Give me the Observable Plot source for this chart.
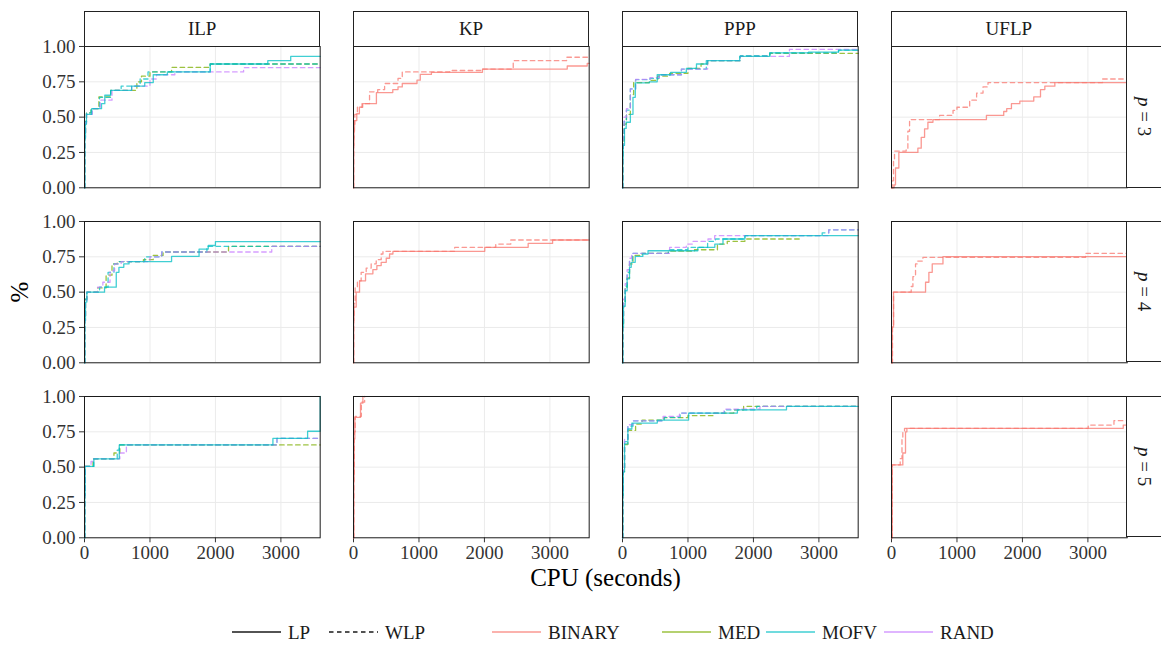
<!DOCTYPE html>
<html><head><meta charset="utf-8">
<script src="https://cdn.jsdelivr.net/npm/d3@7"></script>
<script src="https://cdn.jsdelivr.net/npm/@observablehq/plot@0.6"></script>
<style>
html,body{margin:0;padding:0;background:#fff;}
#root{position:relative;width:1161px;height:652px;overflow:hidden;font-family:"Liberation Serif","Times New Roman",serif;color:#1a1a1a;}
.panel{position:absolute;}
.strip{position:absolute;box-sizing:border-box;border:1px solid #222;background:#fff;display:flex;align-items:center;justify-content:center;font-size:19px;color:#1a1a1a;}
.vstrip{writing-mode:vertical-rl;}
.title{position:absolute;font-size:25px;color:#000;white-space:nowrap;}
</style></head><body><div id="root"></div><script>
// ---------- categories ----------
const problems = ["ILP", "KP", "PPP", "UFLP"];
const pValues = [3, 4, 5];
const methods = ["BINARY", "MED", "MOFV", "RAND"];
const methodColors = ["#F8766D", "#7CAE00", "#00BFC4", "#C77CFF"];
const bounds = ["LP", "WLP"];
const xTicks = [0, 1000, 2000, 3000];
const yTicks = [0, 0.25, 0.5, 0.75, 1];
const xDomain = [0, 3600];

// ---------- series: [CPU seconds, fraction solved] ----------
const ILP_p3_MOFV_LP = [[0,0],[5,0.35],[15,0.45],[30,0.52],[110,0.56],[260,0.595],[310,0.655],[400,0.69],[720,0.72],[920,0.745],[1050,0.80],[1265,0.82],[1920,0.876],[2800,0.90],[3150,0.93],[3600,0.93]];
const ILP_p3_MED_WLP = [[0,0],[5,0.38],[15,0.47],[30,0.53],[100,0.56],[220,0.643],[400,0.69],[800,0.75],[870,0.79],[1000,0.82],[1330,0.852],[1920,0.876],[3600,0.876]];
const ILP_p3_MOFV_WLP = [[0,0],[5,0.38],[15,0.47],[30,0.53],[100,0.56],[230,0.64],[400,0.69],[560,0.72],[850,0.77],[970,0.82],[1920,0.876],[3600,0.876]];
const ILP_p3_RAND_WLP = [[0,0],[5,0.36],[15,0.46],[30,0.52],[120,0.56],[240,0.62],[420,0.69],[720,0.72],[1000,0.77],[1100,0.80],[1380,0.82],[2430,0.85],[3600,0.85]];

const KP_p3_BINARY_LP = [[0,0],[3,0.3],[8,0.40],[15,0.476],[50,0.524],[90,0.571],[130,0.595],[350,0.674],[600,0.695],[680,0.714],[745,0.738],[970,0.762],[1020,0.802],[1190,0.817],[1970,0.84],[3265,0.862],[3570,0.88],[3600,0.88]];
const KP_p3_BINARY_WLP = [[0,0],[3,0.35],[8,0.45],[20,0.52],[60,0.57],[140,0.595],[245,0.679],[370,0.695],[475,0.738],[680,0.774],[745,0.82],[1470,0.83],[1960,0.84],[2440,0.90],[3255,0.924],[3600,0.924]];

const PPP_p3_MOFV_LP = [[0,0],[5,0.2],[10,0.3],[30,0.42],[56,0.464],[120,0.52],[160,0.64],[195,0.743],[410,0.75],[530,0.80],[735,0.817],[975,0.845],[1130,0.876],[1300,0.90],[1790,0.93],[2250,0.955],[2840,0.96],[3300,0.975],[3600,0.975]];
const PPP_p3_MED_WLP = [[0,0],[5,0.25],[10,0.33],[25,0.45],[60,0.52],[120,0.66],[170,0.745],[410,0.76],[540,0.79],[720,0.81],[1000,0.845],[1200,0.876],[1300,0.90],[1800,0.93],[2250,0.952],[3600,0.952]];
const PPP_p3_MOFV_WLP = [[0,0],[5,0.27],[10,0.36],[25,0.47],[60,0.55],[120,0.70],[200,0.765],[420,0.775],[560,0.80],[900,0.84],[1280,0.90],[1800,0.935],[2250,0.955],[3300,0.975],[3600,0.975]];
const PPP_p3_RAND_WLP = [[0,0],[5,0.28],[10,0.37],[25,0.50],[60,0.56],[120,0.70],[200,0.767],[420,0.78],[560,0.80],[900,0.84],[1300,0.90],[1800,0.93],[2550,0.98],[3600,0.98]];

const UFLP_p3_BINARY_LP = [[0,0],[40,0.02],[61,0.14],[112,0.25],[403,0.28],[454,0.357],[505,0.417],[556,0.464],[633,0.483],[1450,0.512],[1714,0.54],[1760,0.56],[1832,0.595],[1960,0.614],[2173,0.643],[2276,0.695],[2342,0.719],[2495,0.745],[3600,0.745]];
const UFLP_p3_BINARY_WLP = [[0,0],[20,0.05],[31,0.20],[46,0.26],[224,0.28],[250,0.40],[276,0.483],[735,0.512],[940,0.548],[1000,0.57],[1194,0.62],[1300,0.67],[1398,0.714],[1474,0.745],[3224,0.77],[3600,0.77]];

const ILP_p4_MOFV_LP = [[0,0],[5,0.30],[15,0.43],[36,0.50],[306,0.535],[485,0.64],[526,0.676],[600,0.70],[680,0.716],[1330,0.753],[1750,0.805],[1890,0.83],[2000,0.857],[3600,0.857]];
const ILP_p4_MED_WLP = [[0,0],[5,0.32],[15,0.45],[36,0.50],[200,0.53],[330,0.62],[420,0.70],[500,0.716],[900,0.73],[1050,0.76],[1200,0.784],[2200,0.824],[3600,0.824]];
const ILP_p4_MOFV_WLP = [[0,0],[5,0.32],[15,0.45],[36,0.50],[230,0.535],[360,0.64],[450,0.70],[530,0.716],[920,0.75],[1180,0.784],[1870,0.824],[3600,0.824]];
const ILP_p4_RAND_WLP = [[0,0],[5,0.30],[15,0.44],[36,0.50],[200,0.535],[280,0.57],[390,0.65],[460,0.70],[560,0.716],[1000,0.75],[1180,0.784],[2860,0.824],[3600,0.824]];

const KP_p4_BINARY_LP = [[0,0],[3,0.30],[8,0.394],[41,0.50],[92,0.58],[184,0.63],[296,0.66],[357,0.688],[423,0.711],[500,0.74],[551,0.77],[602,0.789],[2005,0.817],[2668,0.845],[3041,0.869],[3600,0.869]];
const KP_p4_BINARY_WLP = [[0,0],[3,0.32],[8,0.42],[25,0.53],[60,0.58],[117,0.64],[194,0.67],[270,0.70],[347,0.73],[423,0.77],[450,0.789],[1546,0.817],[2173,0.84],[2403,0.869],[3600,0.869]];

const PPP_p4_MOFV_LP = [[0,0],[5,0.25],[15,0.40],[41,0.51],[71,0.594],[107,0.676],[133,0.711],[194,0.753],[310,0.77],[390,0.793],[1150,0.817],[1410,0.84],[1535,0.876],[1870,0.90],[3600,0.90]];
const PPP_p4_MED_WLP = [[0,0],[5,0.27],[15,0.42],[41,0.53],[71,0.60],[107,0.70],[160,0.76],[300,0.775],[700,0.79],[1100,0.80],[1450,0.84],[1600,0.86],[1870,0.876],[2730,0.876]];
const PPP_p4_MOFV_WLP = [[0,0],[5,0.28],[15,0.43],[41,0.54],[71,0.64],[107,0.72],[150,0.775],[700,0.80],[1000,0.817],[1300,0.86],[1420,0.876],[1870,0.90],[3050,0.92],[3150,0.941],[3600,0.941]];
const PPP_p4_RAND_WLP = [[0,0],[5,0.30],[15,0.45],[41,0.56],[71,0.66],[107,0.74],[140,0.775],[720,0.817],[975,0.84],[1077,0.86],[1306,0.876],[1408,0.90],[3150,0.941],[3600,0.941]];

const UFLP_p4_BINARY_LP = [[0,0],[10,0.254],[31,0.50],[520,0.57],[571,0.64],[622,0.70],[786,0.751],[3600,0.751]];
const UFLP_p4_BINARY_WLP = [[0,0],[15,0.25],[31,0.50],[301,0.54],[327,0.61],[367,0.70],[400,0.72],[480,0.746],[2964,0.775],[3600,0.775]];

const ILP_p5_MOFV_LP = [[0,0],[5,0.30],[10,0.505],[143,0.559],[531,0.657],[2878,0.704],[3408,0.754],[3600,1.0]];
const ILP_p5_MED_WLP = [[0,0],[5,0.30],[10,0.505],[130,0.559],[450,0.60],[540,0.657],[3600,0.657]];
const ILP_p5_MOFV_WLP = [[0,0],[5,0.30],[10,0.505],[140,0.559],[500,0.62],[531,0.657],[2940,0.704],[3600,0.704]];
const ILP_p5_RAND_WLP = [[0,0],[5,0.30],[10,0.505],[100,0.54],[140,0.559],[540,0.60],[640,0.657],[2940,0.704],[3600,0.704]];

const KP_p5_BINARY_LP = [[0,0],[5,0.40],[10,0.70],[20,0.852],[107,0.953],[143,1.0]];
const KP_p5_BINARY_WLP = [[0,0],[5,0.45],[12,0.75],[25,0.86],[120,0.96],[170,1.0]];

const PPP_p5_MOFV_LP = [[0,0],[5,0.30],[12,0.465],[31,0.664],[82,0.77],[143,0.812],[531,0.833],[1010,0.883],[1755,0.906],[2505,0.93],[3600,0.93]];
const PPP_p5_MED_WLP = [[0,0],[5,0.30],[12,0.47],[31,0.66],[82,0.76],[200,0.805],[300,0.833],[630,0.85],[1000,0.864],[1400,0.883],[1700,0.906],[1850,0.93],[3600,0.93]];
const PPP_p5_MOFV_WLP = [[0,0],[5,0.32],[12,0.49],[31,0.68],[82,0.79],[160,0.828],[640,0.852],[880,0.883],[1560,0.906],[2050,0.93],[3600,0.93]];
const PPP_p5_RAND_WLP = [[0,0],[5,0.33],[12,0.50],[31,0.70],[82,0.80],[160,0.828],[620,0.86],[870,0.883],[1550,0.91],[2100,0.93],[3600,0.93]];

const UFLP_p5_BINARY_LP = [[0,0],[10,0.516],[173,0.60],[214,0.75],[235,0.775],[3540,0.798],[3600,0.798]];
const UFLP_p5_BINARY_WLP = [[0,0],[10,0.516],[133,0.56],[160,0.70],[173,0.75],[199,0.775],[3005,0.798],[3398,0.829],[3600,0.829]];

// ---------- table built from the arrays ----------
const registry = {
  ILP_p3_MOFV_LP, ILP_p3_MED_WLP, ILP_p3_MOFV_WLP, ILP_p3_RAND_WLP,
  KP_p3_BINARY_LP, KP_p3_BINARY_WLP,
  PPP_p3_MOFV_LP, PPP_p3_MED_WLP, PPP_p3_MOFV_WLP, PPP_p3_RAND_WLP,
  UFLP_p3_BINARY_LP, UFLP_p3_BINARY_WLP,
  ILP_p4_MOFV_LP, ILP_p4_MED_WLP, ILP_p4_MOFV_WLP, ILP_p4_RAND_WLP,
  KP_p4_BINARY_LP, KP_p4_BINARY_WLP,
  PPP_p4_MOFV_LP, PPP_p4_MED_WLP, PPP_p4_MOFV_WLP, PPP_p4_RAND_WLP,
  UFLP_p4_BINARY_LP, UFLP_p4_BINARY_WLP,
  ILP_p5_MOFV_LP, ILP_p5_MED_WLP, ILP_p5_MOFV_WLP, ILP_p5_RAND_WLP,
  KP_p5_BINARY_LP, KP_p5_BINARY_WLP,
  PPP_p5_MOFV_LP, PPP_p5_MED_WLP, PPP_p5_MOFV_WLP, PPP_p5_RAND_WLP,
  UFLP_p5_BINARY_LP, UFLP_p5_BINARY_WLP
};
const rows = [];
for (const [key, pts] of Object.entries(registry)) {
  const [problem, pp, method, bound] = key.split("_");
  const p = +pp.slice(1);
  for (const [t, v] of pts) rows.push({problem, p, method, bound, key, t, v});
}

// ---------- layout ----------
const root = document.getElementById("root");
const L0 = 84.3, CSTEP = 268.9, PW = 235.7;
const T0 = 46.3, RSTEP = 174.6, PH = 141.3;
const ML = 52, MR = 2, MT = 2, MB = 32;
const FONT = '"Liberation Serif", "Times New Roman", serif';

pValues.forEach((p, r) => {
  problems.forEach((prob, c) => {
    const data = rows.filter(d => d.problem === prob && d.p === p);
    const chart = Plot.plot({
      width: PW + ML + MR,
      height: PH + MT + MB,
      marginLeft: ML, marginRight: MR, marginTop: MT, marginBottom: MB,
      style: {fontFamily: FONT, fontSize: "19px", color: "#333", background: "transparent", overflow: "visible", maxWidth: "none"},
      x: {domain: xDomain, ticks: xTicks, tickFormat: d3.format("d"), tickSize: 5, tickPadding: 3, label: null, axis: r === pValues.length - 1 ? "bottom" : null},
      y: {domain: [0, 1], ticks: yTicks, tickFormat: d3.format(".2f"), tickSize: 5, tickPadding: 4, label: null, axis: c === 0 ? "left" : null},
      color: {domain: methods, range: methodColors},
      marks: [
        Plot.gridX(xTicks.slice(1), {stroke: "#ebebeb", strokeOpacity: 1, strokeWidth: 1}),
        Plot.gridY(yTicks.slice(1, -1), {stroke: "#ebebeb", strokeOpacity: 1, strokeWidth: 1}),
        Plot.line(data.filter(d => d.bound === "WLP"), {x: "t", y: "v", z: "key", stroke: "method", curve: "step-after", strokeWidth: 1.3, strokeOpacity: 0.75, strokeDasharray: "4.5,3.5"}),
        Plot.line(data.filter(d => d.bound === "LP"), {x: "t", y: "v", z: "key", stroke: "method", curve: "step-after", strokeWidth: 1.3, strokeOpacity: 0.75}),
        Plot.frame({stroke: "#1a1a1a", strokeWidth: 1})
      ]
    });
    const div = document.createElement("div");
    div.className = "panel";
    div.style.left = (L0 + c * CSTEP - ML) + "px";
    div.style.top = (T0 + r * RSTEP - MT) + "px";
    div.style.width = (PW + ML + MR) + "px";
    div.appendChild(chart);
    root.appendChild(div);
  });
});

// column strips
problems.forEach((prob, c) => {
  const s = document.createElement("div");
  s.className = "strip";
  s.style.left = (L0 + c * CSTEP) + "px";
  s.style.top = "11px";
  s.style.width = PW + "px";
  s.style.height = (T0 - 11 + 0.5) + "px";
  s.textContent = prob;
  root.appendChild(s);
});
// row strips
pValues.forEach((p, r) => {
  const s = document.createElement("div");
  s.className = "strip vstrip";
  s.style.left = (L0 + 3 * CSTEP + PW - 0.5) + "px";
  s.style.top = (T0 + r * RSTEP) + "px";
  s.style.width = "36px";
  s.style.height = PH + "px";
  s.innerHTML = `<span><i>p</i> = ${p}</span>`;
  root.appendChild(s);
});

// axis titles
const xt = document.createElement("div");
xt.className = "title";
xt.textContent = "CPU (seconds)";
xt.style.left = (L0 + (3 * CSTEP + PW) / 2) + "px";
xt.style.top = "578px";
xt.style.transform = "translate(-50%,-50%)";
root.appendChild(xt);
const yt = document.createElement("div");
yt.className = "title";
yt.textContent = "%";
yt.style.left = "20px";
yt.style.top = (T0 + (2 * RSTEP + PH) / 2) + "px";
yt.style.transform = "translate(-50%,-50%) rotate(-90deg)";
root.appendChild(yt);

// legend (key start positions are layout)
const legendItems = [
  ...bounds.map((b, i) => ({label: b, color: "#1a1a1a", dash: i === 1 ? "4.5,3.5" : null, group: 0})),
  ...methods.map((m, i) => ({label: m, color: methodColors[i], dash: null, group: 1}))
];
const keyStarts = [232, 329, 492, 662, 766, 884];
const lsvg = d3.select(root).append("svg")
  .attr("width", 1161).attr("height", 40)
  .style("position", "absolute").style("left", "0px").style("top", "612px")
  .style("font-family", FONT).style("font-size", "19px");
const KEYW = 49, KEYGAP = 7, LY = 20;
legendItems.forEach((it, i) => {
  const lx = keyStarts[i];
  lsvg.append("line").attr("x1", lx).attr("x2", lx + KEYW).attr("y1", LY).attr("y2", LY)
    .attr("stroke", it.color).attr("stroke-width", 1.3).attr("stroke-opacity", it.group ? 0.75 : 1)
    .attr("stroke-dasharray", it.dash);
  lsvg.append("text").attr("x", lx + KEYW + KEYGAP).attr("y", LY).attr("dy", "0.35em")
    .attr("fill", "#1a1a1a").text(it.label);
});
</script></body></html>
